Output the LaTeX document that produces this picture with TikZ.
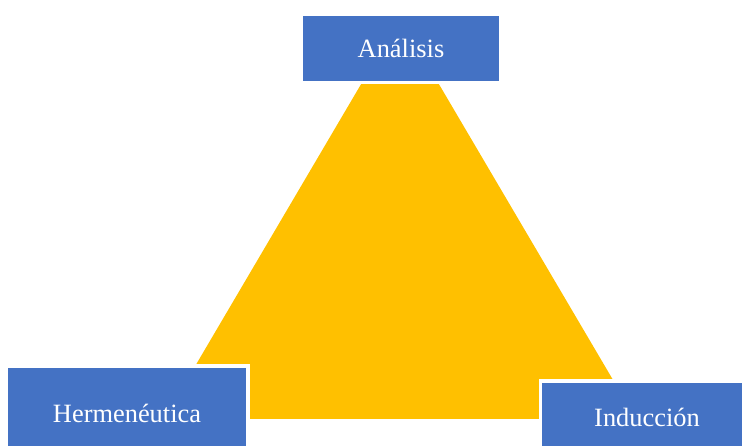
\documentclass[tikz,border=0pt]{standalone}
\usepackage{fontspec}
\setmainfont{Liberation Serif}
\usepackage{tikz}
\definecolor{azul}{HTML}{4472C4}
\definecolor{amarillo}{HTML}{FFC000}

\begin{document}
\begin{tikzpicture}[x=1pt,y=1pt,
    caja/.style={fill=azul,draw=white,line width=3.5pt,text=white,
      font=\fontsize{26.4}{30}\selectfont,inner sep=0pt}]
          \useasboundingbox (0,0) rectangle (742,446);
          \clip (0,0) rectangle (742,446);
          \fill[amarillo] (400,428) -- (164,27) -- (636,27) -- cycle;
          \node[caja,minimum width=199.5pt,minimum height=68.5pt] (A) at (401,397.5) {Análisis};
          \node[caja,minimum width=241.5pt,minimum height=93.5pt] (H) at (127,33) {Hermenéutica};
          \node[caja,minimum width=213.5pt,minimum height=71.5pt] (I) at (647,29) {Inducción};
        \end{tikzpicture}
\end{document}
